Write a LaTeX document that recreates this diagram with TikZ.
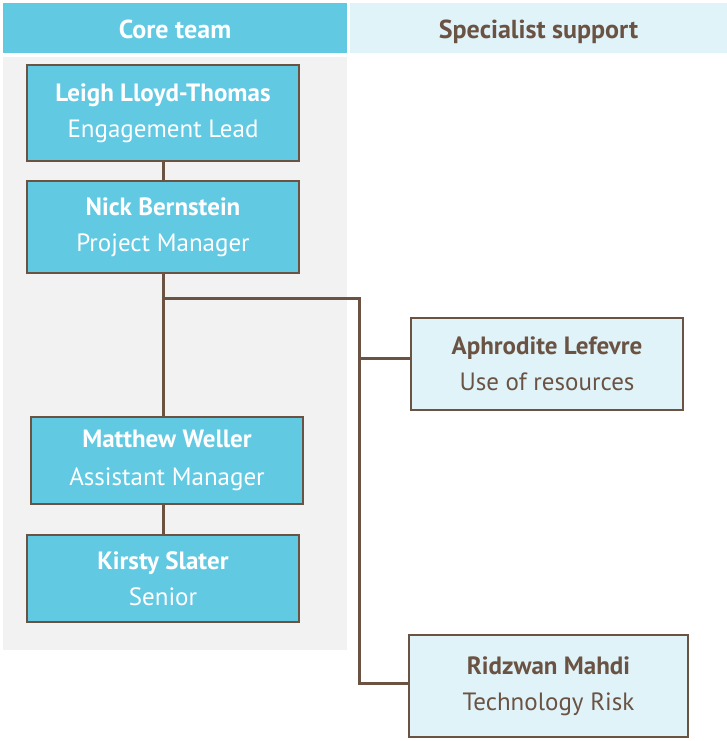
\documentclass[tikz,border=0pt]{standalone}
\usepackage{fontspec}
\setmainfont{PT Sans}
\definecolor{coreblue}{HTML}{62C9E3}
\definecolor{speclight}{HTML}{E0F3F9}
\definecolor{panelgrey}{HTML}{F2F2F2}
\definecolor{linebrown}{HTML}{6B5344}
\tikzset{
  header/.style={minimum height=50pt,inner sep=0pt,text height=22pt,text depth=0pt,
    font=\fontsize{26}{26}\selectfont\bfseries},
  person/.style={draw=linebrown,line width=2pt,inner sep=0pt,align=center,
    font=\fontsize{25}{36}\selectfont},
  corebox/.style={person,fill=coreblue,text=white},
  specbox/.style={person,fill=speclight,text=linebrown},
  link/.style={draw=linebrown,line width=3pt}
}
\begin{document}
\begin{tikzpicture}[x=1pt,y=-1pt]
\useasboundingbox (0,0) rectangle (727,741);

% Column headers and grey panel
\fill[panelgrey] (3,57) rectangle (347,650);
\node[header,fill=coreblue,text=white,minimum width=344pt] (corehead) at (175,28) {Core team};
\node[header,fill=speclight,text=linebrown,minimum width=377pt] (spechead) at (538.5,28) {Specialist support};

% Core team
\node[corebox,minimum width=272pt,minimum height=96pt] (leigh) at (163,113) {\textbf{Leigh Lloyd-Thomas}\\Engagement Lead};
\node[corebox,minimum width=272pt,minimum height=92pt] (nick) at (163,227) {\textbf{Nick Bernstein}\\Project Manager};
\node[corebox,minimum width=272pt,minimum height=87pt] (matthew) at (167,460.5) {\textbf{Matthew Weller}\\[2pt]Assistant Manager};
\node[corebox,minimum width=272pt,minimum height=87pt] (kirsty) at (163,578.5) {\textbf{Kirsty Slater}\\Senior};

% Specialist support
\node[specbox,minimum width=272pt,minimum height=92pt] (aphrodite) at (547,364) {\textbf{Aphrodite Lefevre}\\Use of resources};
\node[specbox,minimum width=279pt,minimum height=102pt] (ridzwan) at (548.5,686) {\textbf{Ridzwan Mahdi}\\Technology Risk};

% Connectors
\draw[link] (leigh.south) -- (nick.north);
\draw[link] (nick.south) -- (nick.south |- matthew.north);
\draw[link] (kirsty.north) -- (kirsty.north |- matthew.south);
\coordinate (branch) at (164,298);
\coordinate (spinetop) at (359,298);
\coordinate (aphin) at ([yshift=6pt]aphrodite.west);
\coordinate (ridin) at ([yshift=3pt]ridzwan.west);
\draw[link] (branch) -- (spinetop) |- (ridin);
\draw[link] (spinetop |- aphin) -- (aphin);

\end{tikzpicture}
\end{document}
